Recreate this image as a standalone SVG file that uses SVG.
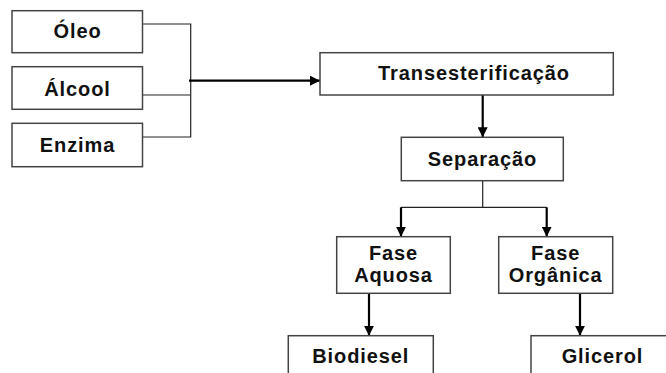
<svg xmlns="http://www.w3.org/2000/svg" width="666" height="373" viewBox="0 0 666 373">
<style>
.box{fill:#fff;stroke:#444;stroke-width:1.5}
.t{font-family:"Liberation Sans",Arial,sans-serif;font-weight:bold;font-size:20px;letter-spacing:0.9px;text-anchor:middle;fill:#111}
.thin{fill:none;stroke:#222;stroke-width:1.2}
.thick{fill:none;stroke:#000;stroke-width:2.2}
</style>
<defs>
<marker id="ah" viewBox="0 0 10 10" refX="10" refY="5" markerWidth="10" markerHeight="10" markerUnits="userSpaceOnUse" orient="auto">
<path d="M0,0 L10,5 L0,10 Z" fill="#000"/>
</marker>
</defs>
<rect width="666" height="373" fill="#fff"/>
<g id="connectors">
<polyline class="thin" points="142.5,24 190.7,24 190.7,137 142.5,137"/>
<line class="thin" x1="142.5" y1="95" x2="190.7" y2="95"/>
<line class="thick" x1="189" y1="80.7" x2="320" y2="80.7" marker-end="url(#ah)"/>
<line class="thick" x1="482.7" y1="95" x2="482.7" y2="137.3" marker-end="url(#ah)"/>
<polyline class="thin" points="482.7,180.7 482.7,207.3 401,207.3"/>
<line class="thin" x1="482.7" y1="207.3" x2="546.7" y2="207.3"/>
<line class="thick" x1="401" y1="207.3" x2="401" y2="236.7" marker-end="url(#ah)"/>
<line class="thick" x1="546.7" y1="207.3" x2="546.7" y2="236.7" marker-end="url(#ah)"/>
<line class="thick" x1="369" y1="293.3" x2="369" y2="335.7" marker-end="url(#ah)"/>
<line class="thick" x1="580" y1="293.3" x2="580" y2="335.7" marker-end="url(#ah)"/>
</g>
<g id="oleo"><rect class="box" x="12" y="10.7" width="130.5" height="42"/><text class="t" x="77.5" y="37.5">Óleo</text></g>
<g id="alcool"><rect class="box" x="12" y="66.7" width="130.5" height="42.6"/><text class="t" x="77.5" y="95.8">Álcool</text></g>
<g id="enzima"><rect class="box" x="12" y="123.3" width="130.5" height="43.4"/><text class="t" x="77.5" y="151.5">Enzima</text></g>
<g id="trans"><rect class="box" x="320" y="52.7" width="293.3" height="42.3"/><text class="t" x="474" y="79.5">Transesterificação</text></g>
<g id="separacao"><rect class="box" x="401.3" y="137.3" width="162" height="43.4"/><text class="t" x="482.5" y="165.8">Separação</text></g>
<g id="aquosa"><rect class="box" x="336.7" y="236.7" width="113.6" height="56.6"/><text class="t" x="393.5" y="259.5">Fase</text><text class="t" x="393.5" y="282">Aquosa</text></g>
<g id="organica"><rect class="box" x="498.7" y="236.7" width="114" height="56.6"/><text class="t" x="555.7" y="259.5">Fase</text><text class="t" x="555.7" y="282">Orgânica</text></g>
<g id="biodiesel"><rect class="box" x="288.3" y="335.7" width="145" height="50"/><text class="t" x="360.8" y="362.5">Biodiesel</text></g>
<g id="glicerol"><rect class="box" x="531" y="335.7" width="143" height="50"/><text class="t" x="602.5" y="362.5">Glicerol</text></g>
</svg>
